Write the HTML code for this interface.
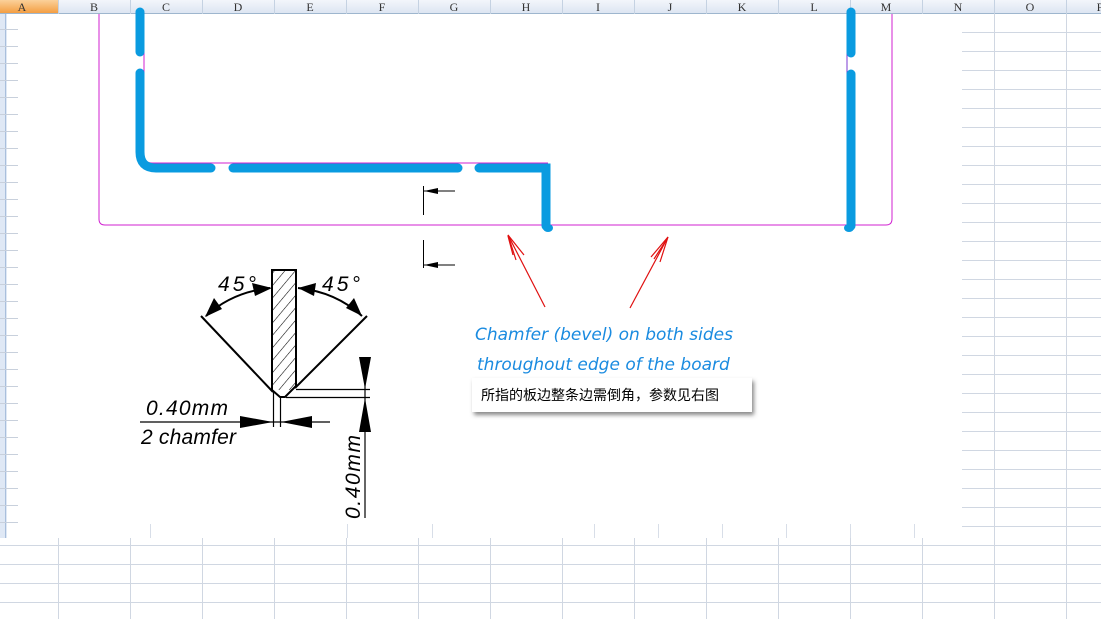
<!DOCTYPE html>
<html><head><meta charset="utf-8"><style>
html,body{margin:0;padding:0;width:1101px;height:619px;overflow:hidden;background:#fff}
svg{display:block}
</style></head><body>
<svg width="1101" height="619" viewBox="0 0 1101 619" xmlns="http://www.w3.org/2000/svg">
<defs>
<linearGradient id="hdr" x1="0" y1="0" x2="0" y2="1"><stop offset="0" stop-color="#f3f6fb"/><stop offset="1" stop-color="#dbe4f1"/></linearGradient>
<linearGradient id="hdrA" x1="0" y1="0" x2="0" y2="1"><stop offset="0" stop-color="#fbd19a"/><stop offset="1" stop-color="#f39a3c"/></linearGradient>
<pattern id="hatch" width="8" height="8" patternUnits="userSpaceOnUse" patternTransform="rotate(40)"><line x1="0" y1="0" x2="0" y2="8" stroke="#000" stroke-width="1.1"/></pattern>
<filter id="sh" x="-10%" y="-20%" width="130%" height="160%"><feDropShadow dx="2" dy="3" stdDeviation="2" flood-color="#555" flood-opacity="0.7"/></filter>
</defs>
<g stroke="#d0d7e2" stroke-width="1">
<line x1="0" y1="545.5" x2="1101" y2="545.5"/><line x1="0" y1="564.5" x2="1101" y2="564.5"/><line x1="0" y1="583.5" x2="1101" y2="583.5"/><line x1="0" y1="602.5" x2="1101" y2="602.5"/>
<line x1="58.5" y1="538" x2="58.5" y2="619"/><line x1="130.5" y1="538" x2="130.5" y2="619"/><line x1="202.5" y1="538" x2="202.5" y2="619"/><line x1="274.5" y1="538" x2="274.5" y2="619"/><line x1="346.5" y1="538" x2="346.5" y2="619"/><line x1="418.5" y1="538" x2="418.5" y2="619"/><line x1="490.5" y1="538" x2="490.5" y2="619"/><line x1="562.5" y1="538" x2="562.5" y2="619"/><line x1="634.5" y1="538" x2="634.5" y2="619"/><line x1="706.5" y1="538" x2="706.5" y2="619"/><line x1="778.5" y1="538" x2="778.5" y2="619"/><line x1="850.5" y1="538" x2="850.5" y2="619"/><line x1="922.5" y1="538" x2="922.5" y2="619"/><line x1="994.5" y1="14" x2="994.5" y2="619"/><line x1="1066.5" y1="14" x2="1066.5" y2="619"/>
</g>
<g stroke="#d0d7e2">
<line x1="962" y1="32.5" x2="1101" y2="32.5"/><line x1="962" y1="51.5" x2="1101" y2="51.5"/><line x1="962" y1="70.5" x2="1101" y2="70.5"/><line x1="962" y1="89.5" x2="1101" y2="89.5"/><line x1="962" y1="108.5" x2="1101" y2="108.5"/><line x1="962" y1="127.5" x2="1101" y2="127.5"/><line x1="962" y1="146.5" x2="1101" y2="146.5"/><line x1="962" y1="165.5" x2="1101" y2="165.5"/><line x1="962" y1="184.5" x2="1101" y2="184.5"/><line x1="962" y1="203.5" x2="1101" y2="203.5"/><line x1="962" y1="222.5" x2="1101" y2="222.5"/><line x1="962" y1="241.5" x2="1101" y2="241.5"/><line x1="962" y1="260.5" x2="1101" y2="260.5"/><line x1="962" y1="279.5" x2="1101" y2="279.5"/><line x1="962" y1="298.5" x2="1101" y2="298.5"/><line x1="962" y1="317.5" x2="1101" y2="317.5"/><line x1="962" y1="336.5" x2="1101" y2="336.5"/><line x1="962" y1="355.5" x2="1101" y2="355.5"/><line x1="962" y1="374.5" x2="1101" y2="374.5"/><line x1="962" y1="393.5" x2="1101" y2="393.5"/><line x1="962" y1="412.5" x2="1101" y2="412.5"/><line x1="962" y1="431.5" x2="1101" y2="431.5"/><line x1="962" y1="450.5" x2="1101" y2="450.5"/><line x1="962" y1="469.5" x2="1101" y2="469.5"/><line x1="962" y1="488.5" x2="1101" y2="488.5"/><line x1="962" y1="507.5" x2="1101" y2="507.5"/><line x1="962" y1="526.5" x2="1101" y2="526.5"/>
</g>
<g stroke="#d8dee8"><line x1="150.5" y1="524" x2="150.5" y2="538"/><line x1="347.5" y1="524" x2="347.5" y2="538"/><line x1="432.5" y1="524" x2="432.5" y2="538"/><line x1="594.5" y1="524" x2="594.5" y2="538"/><line x1="658.5" y1="524" x2="658.5" y2="538"/><line x1="722.5" y1="524" x2="722.5" y2="538"/><line x1="786.5" y1="524" x2="786.5" y2="538"/><line x1="850.5" y1="524" x2="850.5" y2="538"/><line x1="914.5" y1="524" x2="914.5" y2="538"/></g>
<rect x="0" y="14" width="7" height="524" fill="#dfe8f5"/>
<line x1="5.5" y1="14" x2="5.5" y2="538" stroke="#a9bfdc"/>
<g stroke="#c8d0dc"><line x1="0" y1="29.5" x2="18" y2="29.5"/><line x1="0" y1="46.5" x2="18" y2="46.5"/><line x1="0" y1="63.5" x2="18" y2="63.5"/><line x1="0" y1="80.5" x2="18" y2="80.5"/><line x1="0" y1="97.5" x2="18" y2="97.5"/><line x1="0" y1="114.5" x2="18" y2="114.5"/><line x1="0" y1="131.5" x2="18" y2="131.5"/><line x1="0" y1="148.5" x2="18" y2="148.5"/><line x1="0" y1="165.5" x2="18" y2="165.5"/><line x1="0" y1="182.5" x2="18" y2="182.5"/><line x1="0" y1="199.5" x2="18" y2="199.5"/><line x1="0" y1="216.5" x2="18" y2="216.5"/><line x1="0" y1="233.5" x2="18" y2="233.5"/><line x1="0" y1="250.5" x2="18" y2="250.5"/><line x1="0" y1="267.5" x2="18" y2="267.5"/><line x1="0" y1="284.5" x2="18" y2="284.5"/><line x1="0" y1="301.5" x2="18" y2="301.5"/><line x1="0" y1="318.5" x2="18" y2="318.5"/><line x1="0" y1="335.5" x2="18" y2="335.5"/><line x1="0" y1="352.5" x2="18" y2="352.5"/><line x1="0" y1="369.5" x2="18" y2="369.5"/><line x1="0" y1="386.5" x2="18" y2="386.5"/><line x1="0" y1="403.5" x2="18" y2="403.5"/><line x1="0" y1="420.5" x2="18" y2="420.5"/><line x1="0" y1="437.5" x2="18" y2="437.5"/><line x1="0" y1="454.5" x2="18" y2="454.5"/><line x1="0" y1="471.5" x2="18" y2="471.5"/><line x1="0" y1="488.5" x2="18" y2="488.5"/><line x1="0" y1="505.5" x2="18" y2="505.5"/><line x1="0" y1="522.5" x2="18" y2="522.5"/></g>
<rect x="0" y="0" width="1101" height="14" fill="url(#hdr)"/>
<rect x="0" y="0" width="58" height="14" fill="url(#hdrA)"/>
<line x1="0" y1="13.5" x2="1101" y2="13.5" stroke="#9eb6ce"/>
<g stroke="#c5d2e2"><line x1="58.5" y1="0" x2="58.5" y2="14"/><line x1="130.5" y1="0" x2="130.5" y2="14"/><line x1="202.5" y1="0" x2="202.5" y2="14"/><line x1="274.5" y1="0" x2="274.5" y2="14"/><line x1="346.5" y1="0" x2="346.5" y2="14"/><line x1="418.5" y1="0" x2="418.5" y2="14"/><line x1="490.5" y1="0" x2="490.5" y2="14"/><line x1="562.5" y1="0" x2="562.5" y2="14"/><line x1="634.5" y1="0" x2="634.5" y2="14"/><line x1="706.5" y1="0" x2="706.5" y2="14"/><line x1="778.5" y1="0" x2="778.5" y2="14"/><line x1="850.5" y1="0" x2="850.5" y2="14"/><line x1="922.5" y1="0" x2="922.5" y2="14"/><line x1="994.5" y1="0" x2="994.5" y2="14"/><line x1="1066.5" y1="0" x2="1066.5" y2="14"/></g>
<g font-family="Liberation Serif, serif" font-size="12" fill="#333" text-anchor="middle">
<text x="22" y="11">A</text><text x="94" y="11">B</text><text x="166" y="11">C</text><text x="238" y="11">D</text><text x="310" y="11">E</text><text x="382" y="11">F</text><text x="454" y="11">G</text><text x="526" y="11">H</text><text x="598" y="11">I</text><text x="670" y="11">J</text><text x="742" y="11">K</text><text x="814" y="11">L</text><text x="886" y="11">M</text><text x="958" y="11">N</text><text x="1030" y="11">O</text><text x="1100" y="11">P</text>
</g>
<path d="M99 14 V219 Q99 225 105 225 H886 Q892 225 892 219 V14" fill="none" stroke="#d020d0" stroke-width="1"/>
<path d="M144 14 V155 Q144 163 152 163 H548" fill="none" stroke="#d020d0" stroke-width="1"/>
<path d="M847 14 V225" fill="none" stroke="#7a3ad0" stroke-width="1"/>
<g stroke="#0a9be0" stroke-width="9" stroke-linecap="round" fill="none">
<line x1="140" y1="12" x2="140" y2="52"/>
<path d="M140 73 V152 Q140 168 156 168 H211"/>
<line x1="233" y1="168" x2="458" y2="168"/>
<path d="M479 168 H546 V226"/>
<line x1="851" y1="12" x2="851" y2="53"/>
<line x1="851" y1="74" x2="851" y2="226"/>
</g>
<ellipse cx="548" cy="228" rx="5" ry="4" fill="#0a9be0"/>
<ellipse cx="849" cy="228" rx="5" ry="4" fill="#0a9be0"/>
<g stroke="#000" stroke-width="1">
<line x1="423.5" y1="186" x2="423.5" y2="215"/><line x1="423" y1="191" x2="455" y2="191"/>
<line x1="423.5" y1="240" x2="423.5" y2="268"/><line x1="423" y1="265" x2="455" y2="265"/>
</g>
<path d="M424 191 L438 188 L438 194Z M424 265 L438 262 L438 268Z" fill="#000"/>
<g stroke="#e01010" stroke-width="1.2" fill="none">
<line x1="545" y1="307" x2="508" y2="235"/><path d="M516 260 L508 235 L524 255"/><path d="M513 255 L508 236"/>
<line x1="630" y1="308" x2="668" y2="237"/><path d="M651 257 L668 237 L660 262"/><path d="M654 259 L667 239"/>
</g>
<rect x="272" y="270" width="24" height="120" fill="url(#hatch)" stroke="none"/>
<path d="M272 270 H296 V386 L285 397 H280 L272 390 Z" fill="none" stroke="#000" stroke-width="2"/>
<g stroke="#000" stroke-width="2" fill="none">
<line x1="201" y1="316" x2="273" y2="392"/>
<line x1="367" y1="316" x2="295" y2="388"/>
<path d="M206 316 Q232 292 270 288"/>
<path d="M298 288 Q336 292 362 316"/>
</g>
<path d="M272 288 L252 283 L255 296Z M205 317 L214 298 L222 309Z M298 288 L316 283 L314 296Z M362 316 L346 308 L354 298Z" fill="#000"/>
<g stroke="#000" stroke-width="1.2">
<line x1="273.5" y1="392" x2="273.5" y2="427"/><line x1="280.5" y1="398" x2="280.5" y2="427"/>
<line x1="140" y1="422" x2="330" y2="422"/>
<line x1="296" y1="389.5" x2="370" y2="389.5"/><line x1="286" y1="397.5" x2="370" y2="397.5"/>
<line x1="365" y1="357" x2="365" y2="518"/>
</g>
<path d="M273 422 L240 416 L240 428Z M281 422 L312 416 L312 428Z M365 389 L359 357 L371 357Z M365 398 L359 432 L371 432Z" fill="#000"/>
<g font-family="Liberation Sans, sans-serif" font-style="italic" font-size="21" fill="#000">
<text x="146" y="415" textLength="82">0.40mm</text>
<text x="141" y="444" textLength="95">2 chamfer</text>
<text x="218" y="291" textLength="38">45°</text>
<text x="322" y="291" textLength="38">45°</text>
<text transform="translate(360 519) rotate(-90)" textLength="84">0.40mm</text>
</g>
<g font-family="DejaVu Sans, sans-serif" font-style="italic" font-size="17" fill="#1a8be0">
<text x="475" y="340">Chamfer (bevel) on both sides</text>
<text x="477" y="370">throughout edge of the board</text>
</g>
<rect x="472" y="378" width="280" height="34" fill="#fff" filter="url(#sh)"/>
<text x="481" y="400" font-family="Liberation Sans, 'Noto Sans CJK SC', sans-serif" font-size="14" fill="#000">所指的板边整条边需倒角，参数见右图</text>
</svg>
</body></html>
